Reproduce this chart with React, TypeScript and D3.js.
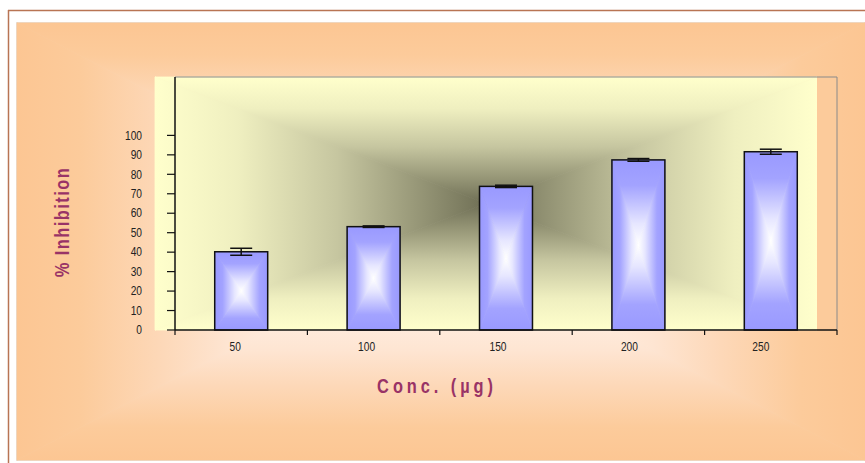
import * as d3 from "d3";

// data
const concentrations = ["50", "100", "150", "200", "250"];
const inhibition = [40.2, 53.1, 73.8, 87.4, 91.6];
const errors = [1.8, 0.4, 0.6, 0.7, 1.3];
const yTicks = [0, 10, 20, 30, 40, 50, 60, 70, 80, 90, 100];

const W = 865;
const H = 463;
const plot = { left: 175, right: 837, top: 77, bottom: 330 };

const x = d3
  .scaleBand<string>()
  .domain(concentrations)
  .range([plot.left, plot.right])
  .paddingInner(0)
  .paddingOuter(0);

const y = d3.scaleLinear().domain([0, 130]).range([plot.bottom, plot.top]);

const barW = x.bandwidth() * 0.4;

const font = "'Liberation Sans', Arial, sans-serif";

// "from center" rectangle fill: four triangles, each with its own linear gradient
function centerFill(x0: number, y0: number, w: number, h: number, id: string) {
  const cx = x0 + w / 2;
  const cy = y0 + h / 2;
  const x1 = x0 + w;
  const y1 = y0 + h;
  const tris = [
    { d: `M${x0},${y0}L${x1},${y0}L${cx},${cy}Z`, g: `${id}-t` },
    { d: `M${x0},${y1}L${x1},${y1}L${cx},${cy}Z`, g: `${id}-b` },
    { d: `M${x0},${y0}L${x0},${y1}L${cx},${cy}Z`, g: `${id}-l` },
    { d: `M${x1},${y0}L${x1},${y1}L${cx},${cy}Z`, g: `${id}-r` },
  ];
  return tris.map((t, i) => (
    <path key={i} d={t.d} fill={`url(#${t.g})`} stroke={`url(#${t.g})`} strokeWidth={0.8} />
  ));
}

function gradientSet(id: string, stops: [number, string][]) {
  const dirs = [
    { s: "t", x1: 0, y1: 0, x2: 0, y2: 1 },
    { s: "b", x1: 0, y1: 1, x2: 0, y2: 0 },
    { s: "l", x1: 0, y1: 0, x2: 1, y2: 0 },
    { s: "r", x1: 1, y1: 0, x2: 0, y2: 0 },
  ];
  return dirs.map((dd) => (
    <linearGradient key={dd.s} id={`${id}-${dd.s}`} x1={dd.x1} y1={dd.y1} x2={dd.x2} y2={dd.y2}>
      {stops.map(([o, c], i) => (
        <stop key={i} offset={o} stopColor={c} />
      ))}
    </linearGradient>
  ));
}

const App = () => {
  return (
    <svg
      width={W}
      height={H}
      style={{ position: "absolute", left: 0, top: 0, background: "#fff" }}
    >
      <defs>
        {gradientSet("area", [
          [0, "#fcc693"],
          [0.15, "#fccb9b"],
          [0.34, "#fdd8b8"],
          [0.5, "#fee5d2"],
          [0.7, "#fff0e4"],
          [1, "#fff8f2"],
        ])}
        {gradientSet("plotbg", [
          [0, "#ffffcc"],
          [0.25, "#efefc0"],
          [0.55, "#c6c6a0"],
          [1, "#6f6f55"],
        ])}
        {gradientSet("bar", [
          [0, "#9999ff"],
          [0.3, "#a3a3ff"],
          [0.75, "#e6e6ff"],
          [1, "#ffffff"],
        ])}
      </defs>

      {/* outer frame */}
      <line x1={8} y1={10.5} x2={W} y2={10.5} stroke="#b87454" strokeWidth={1.5} />
      <line x1={8.5} y1={10} x2={8.5} y2={H} stroke="#b87454" strokeWidth={1.5} />

      {/* chart area */}
      <rect x={16} y={22} width={W} height={439} fill="#e6e0da" />
      {centerFill(17, 23, 848, 437, "area")}

      {/* plot area */}
      {centerFill(155, plot.top, plot.right - 20 - 155, plot.bottom - plot.top, "plotbg")}
      <rect x={plot.right - 20} y={plot.top} width={20} height={plot.bottom - plot.top} fill="#fccb9b" />
      <path
        d={`M${plot.left},${plot.top}H${plot.right}V${plot.bottom}`}
        fill="none"
        stroke="#8a8a8a"
        strokeWidth={1}
      />

      {/* bars */}
      {inhibition.map((v, i) => {
        const c = concentrations[i];
        const bx = (x(c) as number) + (x.bandwidth() - barW) / 2;
        const by = y(v);
        return (
          <g key={c}>
            {centerFill(bx, by, barW, y(0) - by, "bar")}
            <rect x={bx} y={by} width={barW} height={y(0) - by} fill="none" stroke="#111" strokeWidth={1.5} />
          </g>
        );
      })}

      {/* error bars */}
      {inhibition.map((v, i) => {
        const cx = (x(concentrations[i]) as number) + x.bandwidth() / 2;
        const hi = y(v + errors[i]);
        const lo = y(v - errors[i]);
        return (
          <g key={i} stroke="#111" strokeWidth={1.5}>
            <line x1={cx} x2={cx} y1={hi} y2={lo} />
            <line x1={cx - 11} x2={cx + 11} y1={hi} y2={hi} />
            <line x1={cx - 11} x2={cx + 11} y1={lo} y2={lo} />
          </g>
        );
      })}

      {/* y axis */}
      <line x1={plot.left} x2={plot.left} y1={plot.top} y2={plot.bottom} stroke="#111" strokeWidth={1.5} />
      {yTicks.map((t) => (
        <g key={t}>
          <line x1={plot.left - 8} x2={plot.left} y1={y(t)} y2={y(t)} stroke="#111" strokeWidth={1.2} />
          <text
            transform={`translate(142,${y(t)}) scale(0.85,1)`}
            dy="0.35em"
            textAnchor="end"
            fontFamily={font}
            fontSize={12}
            fill="#222"
          >
            {t}
          </text>
        </g>
      ))}

      {/* x axis */}
      <line x1={plot.left} x2={plot.right} y1={plot.bottom} y2={plot.bottom} stroke="#111" strokeWidth={1.5} />
      {[...concentrations.map((c) => x(c) as number), plot.right].map((px, i) => (
        <line key={i} x1={px} x2={px} y1={plot.bottom} y2={plot.bottom + 5} stroke="#111" strokeWidth={1.2} />
      ))}
      {concentrations.map((c, i) => (
        <text
          key={c}
          transform={`translate(${(x(c) as number) + x.bandwidth() / 2 - 6 - i},351) scale(0.85,1)`}
          textAnchor="middle"
          fontFamily={font}
          fontSize={12}
          fill="#222"
        >
          {c}
        </text>
      ))}

      {/* axis titles */}
      <text
        transform="translate(437,393) scale(0.82,1)"
        textAnchor="middle"
        fontFamily={font}
        fontWeight="bold"
        fontSize={20}
        letterSpacing={4.8}
        fill="#993366"
      >
        Conc. (µg)
      </text>
      <text
        transform="translate(69,222) rotate(-90) scale(0.82,1)"
        textAnchor="middle"
        fontFamily={font}
        fontWeight="bold"
        fontSize={20}
        letterSpacing={1.8}
        fill="#993366"
      >
        % Inhibition
      </text>
    </svg>
  );
};

export default App;
